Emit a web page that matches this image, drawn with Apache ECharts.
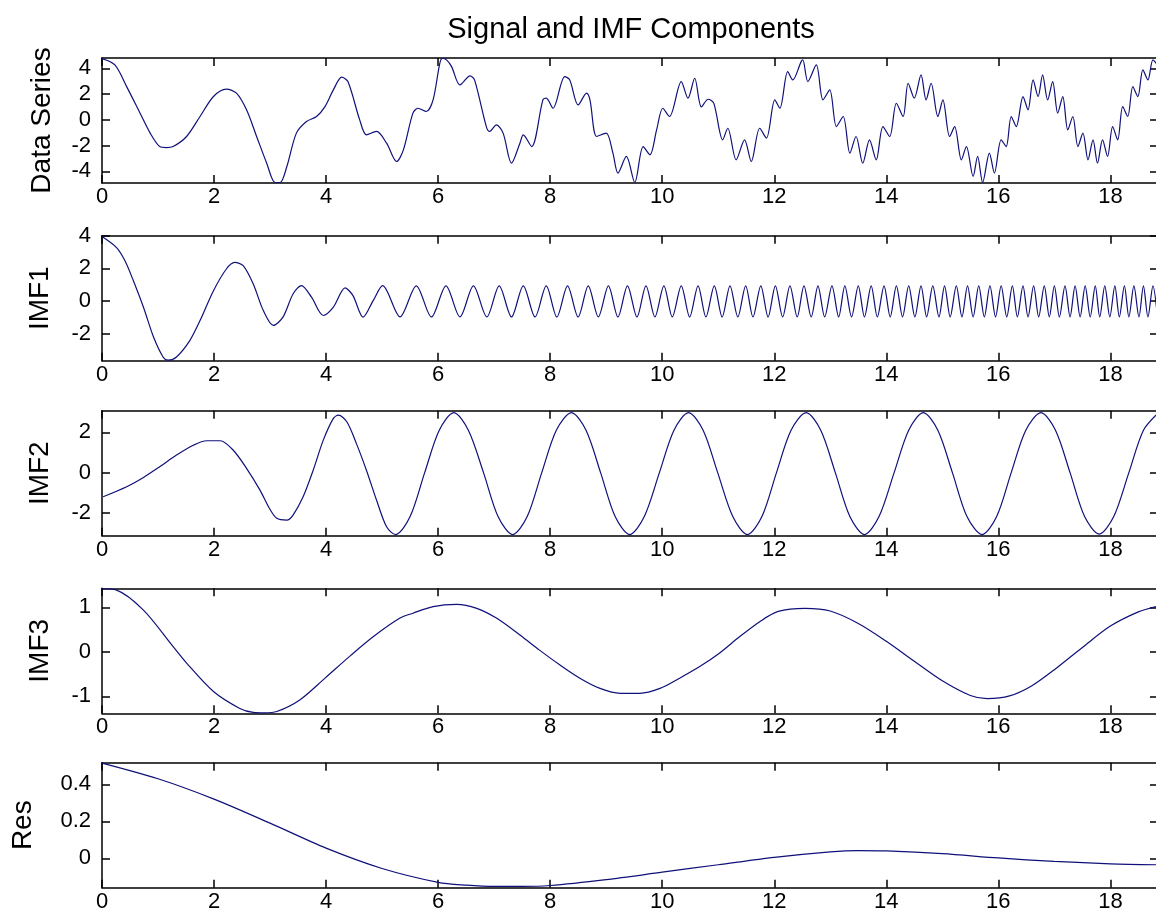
<!DOCTYPE html>
<html>
<head>
<meta charset="utf-8">
<script src="https://cdn.jsdelivr.net/npm/echarts@6/dist/echarts.min.js"></script>
<style>
html,body{margin:0;padding:0;background:#fff;}
#chart{width:1156px;height:919px;}
</style>
</head>
<body>
<div id="chart"></div>
<script>
// ---- data ----
const title = 'Signal and IMF Components';
const panelNames = ['Data Series', 'IMF1', 'IMF2', 'IMF3', 'Res'];
const xTicks = [0, 2, 4, 6, 8, 10, 12, 14, 16, 18];
const yTicksData = [-4, -2, 0, 2, 4];
const yTicksImf1 = [-2, 0, 2, 4];
const yTicksImf2 = [-2, 0, 2];
const yTicksImf3 = [-1, 0, 1];
const yTicksRes = [0, 0.2, 0.4];

const dataT = [0.00,0.23,0.44,0.68,0.86,1.03,1.15,1.27,1.51,1.75,1.99,2.22,2.40,2.58,2.76,2.94,3.09,3.18,3.30,3.47,3.65,3.83,3.98,4.13,4.28,4.39,4.60,4.72,4.90,5.08,5.26,5.38,5.55,5.64,5.79,5.91,6.03,6.08,6.15,6.24,6.39,6.57,6.65,6.86,6.92,7.04,7.16,7.31,7.46,7.52,7.67,7.87,7.93,8.05,8.26,8.35,8.50,8.65,8.71,8.83,9.00,9.12,9.21,9.36,9.51,9.66,9.78,9.90,10.01,10.13,10.34,10.46,10.58,10.70,10.82,10.92,11.08,11.17,11.32,11.47,11.59,11.74,11.86,12.01,12.10,12.24,12.33,12.48,12.51,12.60,12.75,12.87,12.99,13.11,13.23,13.35,13.46,13.58,13.70,13.82,13.94,14.06,14.18,14.30,14.39,14.50,14.62,14.71,14.80,14.92,15.01,15.13,15.22,15.34,15.43,15.55,15.63,15.72,15.84,15.93,16.05,16.14,16.23,16.32,16.44,16.53,16.62,16.71,16.79,16.88,16.97,17.06,17.15,17.24,17.33,17.42,17.51,17.60,17.69,17.77,17.86,17.95,18.04,18.13,18.22,18.31,18.40,18.49,18.58,18.67,18.76,18.85];
const dataV = [4.75,4.26,2.58,0.52,-1.03,-2.07,-2.15,-2.07,-1.29,0.26,1.81,2.38,2.07,0.78,-1.29,-3.36,-4.86,-4.86,-3.62,-1.03,-0.13,0.26,1.03,2.33,3.31,2.97,0.00,-1.16,-0.90,-1.81,-3.23,-2.33,0.52,0.90,0.65,1.55,4.39,4.78,4.65,4.13,2.71,3.41,3.10,-0.52,-0.90,-0.39,-1.03,-3.36,-1.81,-1.16,-2.07,1.55,1.68,0.90,3.36,3.10,1.16,2.07,1.55,-1.29,-1.03,-2.58,-4.13,-2.84,-4.86,-2.07,-2.71,-0.78,0.90,0.26,2.97,1.68,3.23,1.00,1.60,1.30,-1.55,-0.65,-3.10,-1.55,-3.23,-0.65,-1.42,1.55,0.90,3.75,3.10,4.52,4.65,2.97,4.26,1.55,2.33,-0.52,0.26,-2.58,-1.29,-3.36,-1.55,-3.10,-0.52,-1.29,1.29,0.26,2.84,1.68,3.49,1.55,2.84,0.26,1.55,-1.29,-0.52,-3.10,-2.07,-4.39,-2.84,-4.86,-2.58,-4.13,-1.55,-2.07,0.26,-0.52,1.81,0.78,3.10,1.81,3.49,1.55,2.97,0.52,1.81,-0.78,0.26,-2.07,-1.03,-3.10,-1.55,-3.36,-1.55,-2.84,-0.52,-1.55,1.03,0.26,2.58,1.81,3.88,3.10,4.65,4.20];

const imf1T = [0.00,0.26,0.41,0.56,0.74,0.92,1.09,1.18,1.33,1.57,1.75,1.99,2.22,2.37,2.52,2.70,2.88,3.06,3.23,3.41,3.56,3.74,3.95,4.13,4.34,4.48,4.66,4.84,5.01,5.32,5.61,5.88,6.14,6.39,6.63,6.87,7.09,7.31,7.52,7.73,7.93,8.12,8.31,8.50,8.68,8.86,9.04,9.21,9.38,9.55,9.71,9.87,10.03,10.18,10.34,10.49,10.64,10.78,10.93,11.07,11.21,11.35,11.49,11.62,11.76,11.89,12.02,12.15,12.28,12.41,12.53,12.66,12.78,12.90,13.03,13.15,13.26,13.38,13.50,13.61,13.73,13.84,13.96,14.07,14.18,14.29,14.40,14.51,14.62,14.72,14.83,14.94,15.04,15.14,15.25,15.35,15.45,15.55,15.65,15.75,15.85,15.95,16.05,16.15,16.25,16.34,16.44,16.53,16.63,16.72,16.82,16.91,17.00,17.09,17.19,17.28,17.37,17.46,17.55,17.64,17.73,17.81,17.90,17.99,18.08,18.16,18.25,18.33,18.42,18.51,18.59,18.67,18.76,18.84];
const imf1V = [3.95,3.27,2.46,1.24,-0.38,-2.21,-3.43,-3.63,-3.43,-2.41,-1.20,0.63,1.96,2.36,2.16,1.04,-0.59,-1.50,-0.99,0.43,0.94,0.23,-0.89,-0.38,0.80,0.33,-0.99,0.02,0.94,-0.97,0.93,-0.98,0.93,-0.98,0.93,-0.98,0.93,-0.98,0.93,-0.98,0.93,-0.98,0.93,-0.98,0.93,-0.98,0.93,-0.98,0.93,-0.98,0.93,-0.98,0.93,-0.98,0.93,-0.98,0.93,-0.98,0.93,-0.98,0.93,-0.98,0.93,-0.98,0.93,-0.98,0.93,-0.98,0.93,-0.98,0.93,-0.98,0.93,-0.98,0.93,-0.98,0.93,-0.98,0.93,-0.98,0.93,-0.98,0.93,-0.98,0.93,-0.98,0.93,-0.98,0.93,-0.98,0.93,-0.98,0.93,-0.98,0.93,-0.98,0.93,-0.98,0.93,-0.98,0.93,-0.98,0.93,-0.98,0.93,-0.98,0.93,-0.98,0.93,-0.98,0.93,-0.98,0.93,-0.98,0.93,-0.98,0.93,-0.98,0.93,-0.98,0.93,-0.98,0.93,-0.98,0.93,-0.98,0.93,-0.98,0.93,-0.98,0.93,-0.98,0.93,-0.98];

const imf2T = [0.02,0.44,0.74,1.03,1.33,1.63,1.87,2.11,2.34,2.58,2.82,2.99,3.12,3.30,3.41,3.59,3.77,3.95,4.13,4.22,4.37,4.54,4.72,4.90,5.08,5.24,5.50,5.76,6.02,6.28,6.54,6.81,7.07,7.33,7.59,7.85,8.11,8.38,8.64,8.90,9.16,9.42,9.68,9.95,10.21,10.47,10.73,10.99,11.26,11.52,11.78,12.04,12.30,12.57,12.83,13.09,13.35,13.61,13.87,14.14,14.40,14.66,14.92,15.18,15.44,15.71,15.97,16.23,16.49,16.76,17.02,17.28,17.54,17.80,18.06,18.33,18.59,18.85];
const imf2V = [-1.20,-0.70,-0.24,0.29,0.87,1.36,1.58,1.58,1.12,0.21,-0.87,-1.78,-2.27,-2.36,-2.11,-1.20,0.12,1.61,2.69,2.85,2.52,1.45,0.12,-1.36,-2.69,-3.08,-2.18,0.00,2.10,2.97,2.10,0.00,-2.18,-3.08,-2.18,0.00,2.10,2.97,2.10,0.00,-2.18,-3.08,-2.18,0.00,2.10,2.97,2.10,0.00,-2.18,-3.08,-2.18,0.00,2.10,2.97,2.10,0.00,-2.18,-3.08,-2.18,0.00,2.10,2.97,2.10,0.00,-2.18,-3.08,-2.18,0.00,2.10,2.97,2.10,0.00,-2.18,-3.05,-2.18,0.00,2.10,2.95];

const imf3T = [0.00,0.26,0.74,1.27,1.51,1.99,2.46,2.70,2.90,3.12,3.53,3.98,4.42,4.84,5.32,5.55,5.91,6.33,6.69,7.04,7.46,7.81,8.17,8.53,8.89,9.25,9.60,9.96,10.31,10.67,11.02,11.38,11.74,12.07,12.55,13.00,13.50,14.00,14.50,15.00,15.50,15.80,16.20,16.60,17.00,17.50,18.00,18.50,18.85];
const imf3V = [1.42,1.39,0.94,0.12,-0.25,-0.89,-1.27,-1.36,-1.37,-1.34,-1.08,-0.59,-0.10,0.34,0.76,0.87,1.02,1.07,0.98,0.76,0.38,0.04,-0.29,-0.59,-0.82,-0.93,-0.93,-0.82,-0.59,-0.33,-0.03,0.34,0.68,0.91,0.98,0.92,0.64,0.24,-0.21,-0.65,-0.98,-1.05,-0.99,-0.76,-0.40,0.10,0.58,0.90,1.03];

const resT = [0,1,2,3,4,5,6,6.5,7,7.5,8,9,10,11,12,13,13.5,14,15,16,17,18,18.85];
const resV = [0.515,0.43,0.32,0.19,0.055,-0.055,-0.13,-0.145,-0.152,-0.152,-0.147,-0.115,-0.075,-0.035,0.005,0.035,0.042,0.04,0.025,0.002,-0.017,-0.03,-0.035];

const yRanges = [[-4.9, 4.8], [-3.66, 4.0], [-3.13, 3.07], [-1.38, 1.43], [-0.159, 0.517]];
const yTicks = [yTicksData, yTicksImf1, yTicksImf2, yTicksImf3, yTicksRes];
const seriesT = [dataT, imf1T, imf2T, imf3T, resT];
const seriesV = [dataV, imf1V, imf2V, imf3V, resV];

// ---- layout ----
const tops = [58, 235.7, 410.7, 588.3, 762.7];
const nameGaps = [46, 48, 48, 48, 65];
const FONT = 'Liberation Sans, Arial, Helvetica, sans-serif';
const LINE = '#10107a';
const AX = {color: '#000', width: 1.5};

const grids = [], xAxes = [], yAxes = [], series = [];
for (let i = 0; i < 5; i++) {
  grids.push({left: 102, top: tops[i], width: 1056, height: 125, outerBoundsMode: 'none', containLabel: false});
  const xBase = {
    gridIndex: i, type: 'value', min: 0, max: 18.85,
    axisLine: {show: true, onZero: false, lineStyle: AX},
    axisTick: {show: true, inside: true, length: 8, customValues: xTicks, lineStyle: AX},
    splitLine: {show: false}
  };
  xAxes.push(Object.assign({}, xBase, {
    position: 'bottom',
    axisLabel: {show: true, customValues: xTicks, margin: 3, fontSize: 22, color: '#000', fontFamily: FONT}
  }));
  xAxes.push(Object.assign({}, xBase, {position: 'top', axisLabel: {show: false}}));
  const yBase = {
    gridIndex: i, type: 'value', min: yRanges[i][0], max: yRanges[i][1],
    axisLine: {show: true, onZero: false, lineStyle: AX},
    axisTick: {show: true, inside: true, length: 8, customValues: yTicks[i], lineStyle: AX},
    splitLine: {show: false}
  };
  yAxes.push(Object.assign({}, yBase, {
    position: 'left',
    name: panelNames[i], nameLocation: 'middle', nameGap: nameGaps[i],
    nameTextStyle: {fontSize: 28, color: '#000', fontFamily: FONT},
    axisLabel: {show: true, customValues: yTicks[i], margin: 11, fontSize: 22, color: '#000', fontFamily: FONT}
  }));
  yAxes.push(Object.assign({}, yBase, {position: 'right', axisLabel: {show: false}}));
  series.push({
    type: 'line', xAxisIndex: 2 * i, yAxisIndex: 2 * i,
    data: seriesT[i].map((t, k) => [t, seriesV[i][k]]),
    showSymbol: false, symbol: 'none', smooth: 0.3,
    lineStyle: {color: LINE, width: 1.2}, silent: true, clip: true
  });
}

const chart = echarts.init(document.getElementById('chart'), null, {renderer: 'canvas'});
chart.setOption({
  animation: false,
  backgroundColor: '#fff',
  title: {text: title, left: 626, top: 10, textAlign: 'center',
    textStyle: {fontSize: 29, fontWeight: 'normal', color: '#000', fontFamily: FONT}},
  grid: grids, xAxis: xAxes, yAxis: yAxes, series: series
});
</script>
</body>
</html>
